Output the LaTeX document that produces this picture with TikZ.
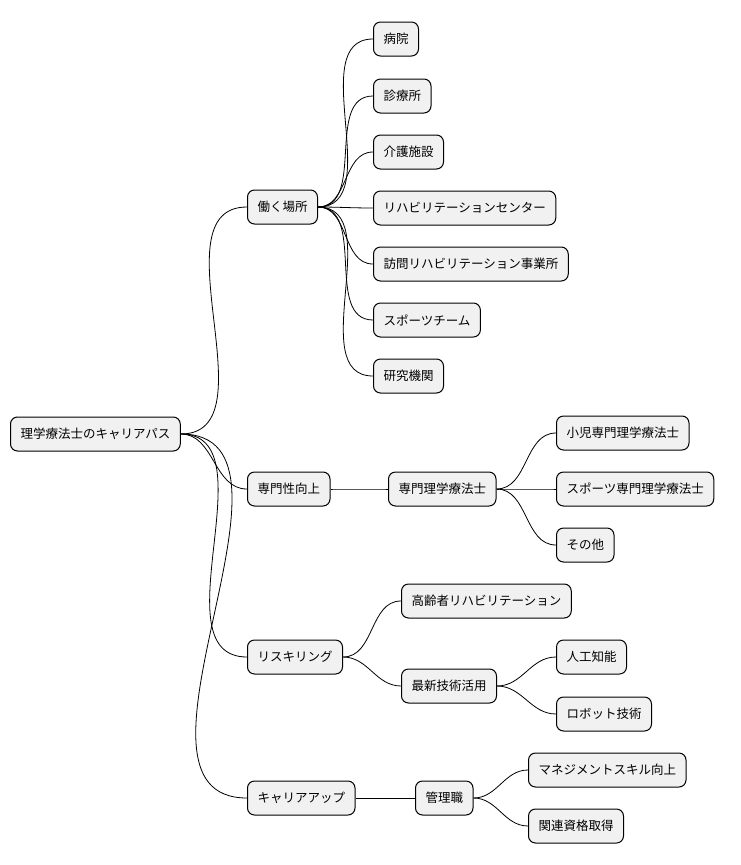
\documentclass[tikz,border=0pt]{standalone}
\usepackage{fontspec}
\setmainfont{Noto Sans CJK JP}
\definecolor{boxfill}{HTML}{F1F1F1}
\tikzstyle{topic}=[draw, rounded corners=7pt, fill=boxfill, line width=1pt, anchor=west, minimum height=34pt, inner xsep=10pt, font=\fontsize{12.5}{14}\selectfont]
\tikzstyle{link}=[line width=0.8pt, out=0, in=180]

\begin{document}
\begin{tikzpicture}[x=1pt, y=-1pt]
		\useasboundingbox (0,0) rectangle (740,865);
		\node[topic] (root) at (10,434) {理学療法士のキャリアパス};
		% level 1
		\node[topic] (work) at (247,207) {働く場所};
		\node[topic] (spec) at (247,489) {専門性向上};
		\node[topic] (resk) at (247,657) {リスキリング};
		\node[topic] (up) at (247,798) {キャリアアップ};
		% workplaces
		\node[topic] (w1) at (373,39) {病院};
		\node[topic] (w2) at (373,96) {診療所};
		\node[topic] (w3) at (373,152) {介護施設};
		\node[topic] (w4) at (373,208) {リハビリテーションセンター};
		\node[topic] (w5) at (373,264) {訪問リハビリテーション事業所};
		\node[topic] (w6) at (373,320) {スポーツチーム};
		\node[topic] (w7) at (373,376) {研究機関};
		% specialist
		\node[topic] (sp) at (388,489) {専門理学療法士};
		\node[topic] (sp1) at (556,433) {小児専門理学療法士};
		\node[topic] (sp2) at (556,489) {スポーツ専門理学療法士};
		\node[topic] (sp3) at (556,545) {その他};
		% reskilling
		\node[topic] (rs1) at (401,601) {高齢者リハビリテーション};
		\node[topic] (rs2) at (401,686) {最新技術活用};
		\node[topic] (ai) at (556,657) {人工知能};
		\node[topic] (robo) at (556,714) {ロボット技術};
		% career up
		\node[topic] (mg) at (415,798) {管理職};
		\node[topic] (mg1) at (528,770) {マネジメントスキル向上};
		\node[topic] (mg2) at (528,826) {関連資格取得};
		\foreach \a/\b in {root/work,root/spec,root/resk,root/up,work/w1,work/w2,work/w3,work/w4,work/w5,work/w6,work/w7,spec/sp,sp/sp1,sp/sp2,sp/sp3,resk/rs1,resk/rs2,rs2/ai,rs2/robo,up/mg,mg/mg1,mg/mg2}
			\draw[link] (\a.east) to (\b.west);
	\end{tikzpicture}
\end{document}
